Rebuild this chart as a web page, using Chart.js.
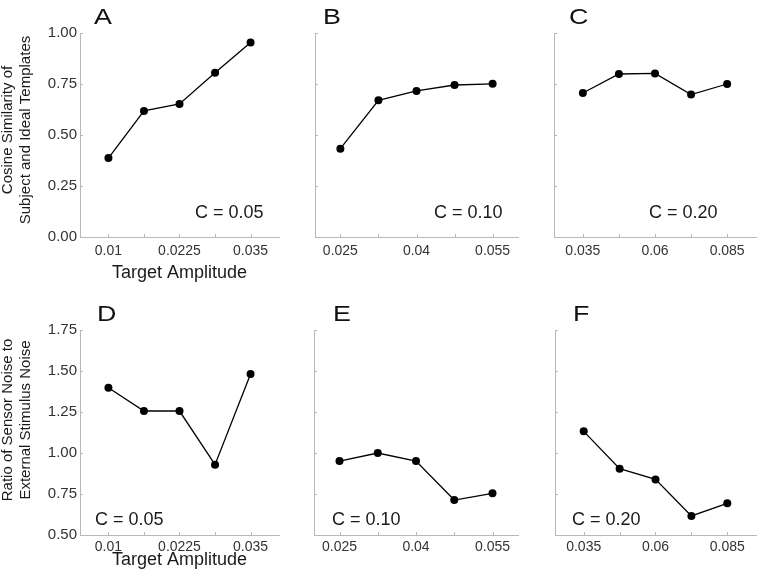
<!DOCTYPE html>
<html>
<head>
<meta charset="utf-8">
<script src="https://cdn.jsdelivr.net/npm/chart.js@4"></script>
<style>
  body { margin: 0; background: #fff; }
  #wrap { position: relative; width: 760px; height: 574px; overflow: hidden; }
  #wrap canvas { position: absolute; }
</style>
</head>
<body>
<div id="wrap"></div>
<script>
// target amplitudes for each noise contrast
const ampLow = [0.01, 0.01625, 0.0225, 0.02875, 0.035];
const ampMid = [0.025, 0.0325, 0.04, 0.0475, 0.055];
const ampHigh = [0.035, 0.0475, 0.06, 0.0725, 0.085];
const ampLowLabels = ['0.01', '', '0.0225', '', '0.035'];
const ampMidLabels = ['0.025', '', '0.04', '', '0.055'];
const ampHighLabels = ['0.035', '', '0.06', '', '0.085'];

// cosine similarity (top row)
const simA = [0.387, 0.618, 0.652, 0.805, 0.954];
const simB = [0.433, 0.670, 0.716, 0.745, 0.751];
const simC = [0.706, 0.799, 0.802, 0.698, 0.750];
const simTicks = [0, 0.25, 0.5, 0.75, 1];

// sensor / external noise ratio (bottom row)
const ratioD = [1.398, 1.256, 1.256, 0.929, 1.482];
const ratioE = [0.951, 1.0, 0.951, 0.713, 0.754];
const ratioF = [1.132, 0.904, 0.839, 0.616, 0.693];
const ratioTicks = [0.5, 0.75, 1, 1.25, 1.5, 1.75];

const FONT = "'Liberation Sans', Arial, Helvetica, sans-serif";
const axisColor = '#b8b8b8';

const panels = [
    { letter: 'A', note: 'C = 0.05', xs: ampLow, xLabels: ampLowLabels, xMin: 0.005, xMax: 0.04, ys: simA, yTicks: simTicks,
      yTitle: ['Cosine Similarity of', 'Subject and Ideal Templates'], yTitleY: 130, xTitle: 'Target Amplitude',
      left: 0, top: 0, width: 283, padTop: 33, yWidth: 80, areaH: 204, xH: 47, tickPad: 6,
      letterX: 14, noteX: 115, noteY: 19.5 },
    { letter: 'B', note: 'C = 0.10', xs: ampMid, xLabels: ampMidLabels, xMin: 0.02, xMax: 0.06, ys: simB, yTicks: simTicks,
      left: 305, top: 0, width: 217, padTop: 33, yWidth: 10, areaH: 204, xH: 47, tickPad: 6,
      letterX: 8, noteX: 119, noteY: 19.5 },
    { letter: 'C', note: 'C = 0.20', xs: ampHigh, xLabels: ampHighLabels, xMin: 0.025, xMax: 0.095, ys: simC, yTicks: simTicks,
      left: 544, top: 0, width: 216, padTop: 33, yWidth: 10, areaH: 204, xH: 47, tickPad: 6,
      letterX: 15, noteX: 95, noteY: 19.5 },
    { letter: 'D', note: 'C = 0.05', xs: ampLow, xLabels: ampLowLabels, xMin: 0.005, xMax: 0.04, ys: ratioD, yTicks: ratioTicks,
      yTitle: ['Ratio of Sensor Noise to', 'External Stimulus Noise'], yTitleY: 130, xTitle: 'Target Amplitude',
      left: 0, top: 290, width: 283, padTop: 40, yWidth: 80, areaH: 205, xH: 36, tickPad: 4,
      letterX: 17, noteX: 15, noteY: 10 },
    { letter: 'E', note: 'C = 0.10', xs: ampMid, xLabels: ampMidLabels, xMin: 0.02, xMax: 0.06, ys: ratioE, yTicks: ratioTicks,
      left: 304, top: 290, width: 218, padTop: 40, yWidth: 10, areaH: 205, xH: 36, tickPad: 4,
      letterX: 19, noteX: 18, noteY: 10 },
    { letter: 'F', note: 'C = 0.20', xs: ampHigh, xLabels: ampHighLabels, xMin: 0.025, xMax: 0.095, ys: ratioF, yTicks: ratioTicks,
      left: 545, top: 290, width: 215, padTop: 40, yWidth: 10, areaH: 205, xH: 36, tickPad: 4,
      letterX: 18, noteX: 17, noteY: 10 }
];

// small inward tick marks, like the original figure
const inwardTicks = {
    id: 'inwardTicks',
    beforeDatasetsDraw(chart) {
        const { ctx, chartArea: a, scales: { x, y } } = chart;
        ctx.save();
        ctx.strokeStyle = axisColor;
        ctx.lineWidth = 1;
        ctx.beginPath();
        x.ticks.forEach(t => {
            const px = Math.round(x.getPixelForValue(t.value)) + 0.5;
            ctx.moveTo(px, a.bottom);
            ctx.lineTo(px, a.bottom - 3);
        });
        y.ticks.forEach(t => {
            const py = Math.round(y.getPixelForValue(t.value)) + 0.5;
            ctx.moveTo(a.left, py);
            ctx.lineTo(a.left + 3, py);
        });
        ctx.stroke();
        ctx.restore();
    }
};

// panel letter, contrast note and the two-line y title
const panelText = {
    id: 'panelText',
    afterDraw(chart, args, opts) {
        const { ctx, chartArea: a } = chart;
        ctx.save();
        ctx.fillStyle = '#111';
        ctx.textBaseline = 'alphabetic';
        ctx.textAlign = 'left';
        ctx.translate(a.left + opts.letterX, a.top - 9);
        ctx.scale(1.22, 1);
        ctx.font = '22px ' + FONT;
        ctx.fillText(opts.letter, 0, 0);
        ctx.restore();

        ctx.save();
        ctx.fillStyle = '#1a1a1a';
        ctx.font = '18px ' + FONT;
        ctx.textBaseline = 'alphabetic';
        ctx.textAlign = 'left';
        ctx.fillText(opts.note, a.left + opts.noteX, a.bottom - opts.noteY);
        ctx.restore();

        if (opts.yTitle) {
            ctx.save();
            ctx.fillStyle = '#1a1a1a';
            ctx.font = '15px ' + FONT;
            ctx.textAlign = 'center';
            ctx.textBaseline = 'middle';
            ctx.translate(0, opts.yTitleY);
            ctx.rotate(-Math.PI / 2);
            opts.yTitle.forEach((line, i) => ctx.fillText(line, 0, 8 + i * 17.5));
            ctx.restore();
        }
    }
};

const wrap = document.getElementById('wrap');

panels.forEach(p => {
    const canvas = document.createElement('canvas');
    const height = p.padTop + p.areaH + p.xH;
    canvas.width = p.width;
    canvas.height = height;
    canvas.style.left = p.left + 'px';
    canvas.style.top = p.top + 'px';
    canvas.style.width = p.width + 'px';
    canvas.style.height = height + 'px';
    wrap.appendChild(canvas);

    const points = p.xs.map((x, i) => ({ x: x, y: p.ys[i] }));

    new Chart(canvas.getContext('2d'), {
        type: 'line',
        data: {
            datasets: [{
                data: points,
                borderColor: '#000',
                borderWidth: 1.3,
                backgroundColor: '#000',
                pointBackgroundColor: '#000',
                pointBorderWidth: 0,
                pointRadius: 4,
                tension: 0,
                clip: false
            }]
        },
        options: {
            responsive: false,
            animation: false,
            devicePixelRatio: 1,
            layout: { padding: { top: p.padTop, left: 0, right: 0, bottom: 0 } },
            plugins: {
                legend: { display: false },
                tooltip: { enabled: false },
                panelText: { letter: p.letter, note: p.note, letterX: p.letterX, noteX: p.noteX, noteY: p.noteY,
                             yTitle: p.yTitle, yTitleY: p.yTitleY }
            },
            scales: {
                x: {
                    type: 'linear',
                    min: p.xMin,
                    max: p.xMax,
                    grid: { display: false, drawTicks: false },
                    border: { color: axisColor, width: 1 },
                    afterBuildTicks: s => { s.ticks = p.xs.map(v => ({ value: v })); },
                    afterFit: s => { s.height = p.xH; },
                    ticks: {
                        autoSkip: false,
                        maxRotation: 0,
                        padding: p.tickPad,
                        color: '#333',
                        font: { family: FONT, size: 14 },
                        callback: (v, i) => p.xLabels[i]
                    },
                    title: {
                        display: !!p.xTitle,
                        text: p.xTitle || '',
                        color: '#1a1a1a',
                        padding: 0,
                        font: { family: FONT, size: 18 }
                    }
                },
                y: {
                    type: 'linear',
                    min: p.yTicks[0],
                    max: p.yTicks[p.yTicks.length - 1],
                    grid: { display: false, drawTicks: false },
                    border: { color: axisColor, width: 1 },
                    afterBuildTicks: s => { s.ticks = p.yTicks.map(v => ({ value: v })); },
                    afterFit: s => { s.width = p.yWidth; },
                    ticks: {
                        display: !!p.yTitle,
                        padding: 3,
                        color: '#333',
                        font: { family: FONT, size: 15 },
                        callback: v => v.toFixed(2)
                    }
                }
            }
        },
        plugins: [inwardTicks, panelText]
    });
});
</script>
</body>
</html>
